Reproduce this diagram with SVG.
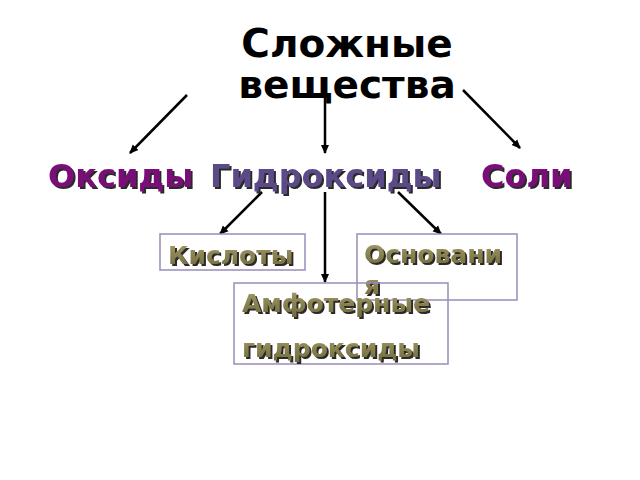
<svg xmlns="http://www.w3.org/2000/svg" width="640" height="480" viewBox="0 0 640 480">
<defs>
<marker id="ah" markerWidth="10" markerHeight="10" refX="8" refY="5" orient="auto" markerUnits="userSpaceOnUse">
<path d="M0,1 L9,5 L0,9 z" fill="#000"/>
</marker>
<linearGradient id="olive" x1="0" y1="0" x2="0" y2="1">
<stop offset="0" stop-color="#a59d6a"/>
<stop offset="1" stop-color="#6e6838"/>
</linearGradient>
<filter id="sh" x="-5%" y="-10%" width="115%" height="130%">
<feDropShadow dx="2" dy="2" stdDeviation="0.4" flood-color="#2a2a2a" flood-opacity="1"/>
</filter>
</defs>
<style>
text{font-family:"DejaVu Sans",sans-serif;font-weight:bold}
.title{font-size:39px;fill:#000;text-anchor:middle}
.l2{font-size:32px;filter:url(#sh)}
.box{fill:#fff;stroke:#9a8cb8;stroke-width:1.5}
.l3{font-size:25px;fill:url(#olive);filter:url(#sh)}
.conn line{stroke:#000;stroke-width:2.5;marker-end:url(#ah)}
</style>
<rect width="640" height="480" fill="#fff"/>
<g id="title">
<text class="title" x="347" y="57">Сложные</text>
<text class="title" x="347" y="98">вещества</text>
</g>
<g class="conn" id="connectors">
<line x1="187" y1="95" x2="130" y2="153"/>
<line x1="325" y1="97" x2="325" y2="153"/>
<line x1="463" y1="90" x2="520" y2="148"/>
<line x1="262" y1="192" x2="220" y2="234"/>
<line x1="325" y1="192" x2="325" y2="282"/>
<line x1="398" y1="192" x2="441" y2="234"/>
</g>
<g id="oksidy">
<text class="l2" x="48" y="187" fill="#7a0a7a">Оксиды</text>
</g>
<g id="gidroksidy">
<text class="l2" x="210" y="187" fill="#5c4a88">Гидроксиды</text>
</g>
<g id="soli">
<text class="l2" x="481" y="187" fill="#7a0a7a">Соли</text>
</g>
<g id="kisloty">
<rect class="box" x="160" y="234" width="145" height="36"/>
<text class="l3" x="168" y="264">Кислоты</text>
</g>
<g id="osnovaniya">
<rect class="box" x="357" y="234" width="160" height="66"/>
<text class="l3" x="364" y="263">Основани</text>
<text class="l3" x="364" y="294">я</text>
</g>
<g id="amfoternye">
<rect class="box" x="234" y="283" width="214" height="81" fill-opacity="0"/>
<text class="l3" x="242" y="312">Амфотерные</text>
<text class="l3" x="242" y="357">гидроксиды</text>
</g>
</svg>
